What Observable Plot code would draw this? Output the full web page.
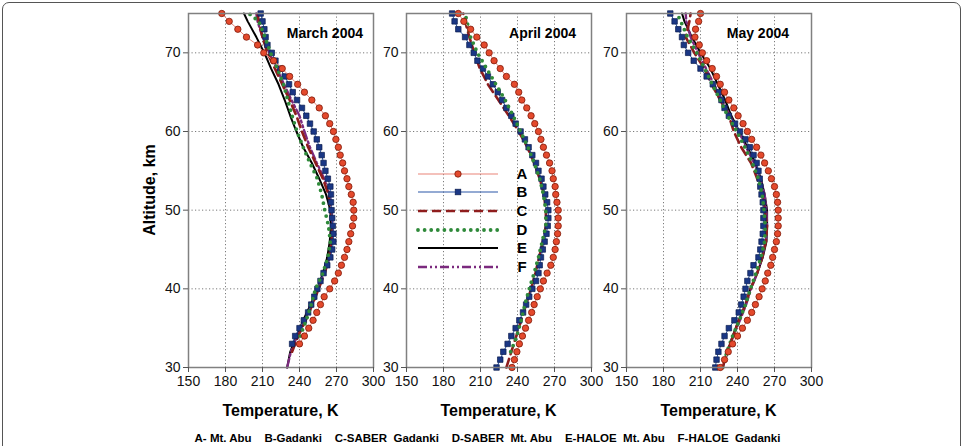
<!DOCTYPE html>
<html><head><meta charset="utf-8">
<script src="https://cdn.jsdelivr.net/npm/d3@7"></script>
<script src="https://cdn.jsdelivr.net/npm/@observablehq/plot@0.6"></script>
<style>
body{margin:0;background:#fff;font-family:'Liberation Sans',Arial,sans-serif;}
#fig{position:relative;width:965px;height:446px;overflow:hidden;background:#fff;}
.lbl{position:absolute;font-weight:bold;color:#000;white-space:pre;line-height:1;}
</style></head><body><div id="fig"></div>
<script>
// ---------- data ----------
const months = ["March 2004", "April 2004", "May 2004"];
const xTicks = [150, 180, 210, 240, 270, 300];
const yTicks = [30, 40, 50, 60, 70];
const legendCodes = ["A", "B", "C", "D", "E", "F"];
const xTitle = "Temperature, K";
const yTitle = "Altitude, km";
const captionText = "A- Mt. Abu    B-Gadanki    C-SABER  Gadanki    D-SABER  Mt. Abu    E-HALOE  Mt. Abu    F-HALOE  Gadanki";

// altitude grids (km)
const alt1 = [30,31,32,33,34,35,36,37,38,39,40,41,42,43,44,45,46,47,48,49,50,51,52,53,54,55,56,57,58,59,60,61,62,63,64,65,66,67,68,69,70,71,72,73,74,75];
const alt2 = [30,32,34,36,38,40,42,44,46,48,50,52,54,56,58,60,62,64,66,68,70,72,74,75];

// March 2004 (K)
const marA = [null,null,null,240,244,247.5,251,254,257,260,264.5,268.5,271.5,274,276.5,278.5,280,281.5,283,284,284,283.5,282,280,278.5,276.5,275,273,271.5,269.5,267.5,264.5,261,256,250,244,238.5,232,226,219,211,206,197,190,183,177];
const marB = [null,null,null,234,236.5,240,243.5,247,249.5,252,254.5,257,259.5,262.5,265,266.5,267.5,267.5,267,266.5,266,265.5,265.5,265,263,261,259.5,258,256,254,251.5,248.5,245.5,242,238,234.5,231.5,228,224.5,220.5,217.5,214,212.5,211.5,210,208.5];
const marC = [null,234,239,245,250.5,255.5,260.5,264,266,266.5,265.5,263.5,259,253,247,242,237.5,232,226,220,214,210,207,206];
const marD = [null,null,240.5,245.5,249.5,253,259,263,265,263.5,260.5,258,254.5,248.5,243,238,234,230.5,227,222,216.5,212,207,199];
const marE = [230,232.5,237.5,243,249,254.5,259,262.5,264.5,265.5,265,261.5,256,250,243,237.5,232.5,228,223,217,211.5,205,198,195];
const marF = [230,233,238,244,250,255,260,264.5,266.5,267,266,264.5,260,254,248.5,244,240,233.5,227.5,221.5,215.5,210,206,205];

// April 2004 (K)
const aprA = [235.5,237.5,239.5,241.5,244,246.5,249,251.5,253.5,256,258.5,261,264,267,269,270.5,271.5,272.5,273,273,273,272,271,270.5,269,268,266,263.5,261,259,257,254,251,247.5,243.5,241,237.5,231,226,221,217,213,207,202,196.5,192];
const aprB = [223,226,228.5,232,235,238.5,241.5,244.5,247,249.5,252,255,257,258,259,260.5,262,263.5,264.5,265,265,264,262.5,261,259.5,257,255,252,249,246,242.5,238.5,235,231,227.5,224,220,216,212,207.5,204.5,201,197.5,192,189,187];
const aprC = [231,235,239,243,247,251,254.5,257.5,260.5,263,263,261.5,258,253.5,248,241,233,224.5,216,209.5,205,201,197.5,196];
const aprD = [null,234.5,239.5,243,246,249.5,253.5,257,260,263,263,261,258,253.5,248.5,242.5,236.5,230,222.5,215,207.5,202,199,197.5];

// May 2004 (K)
const mayA = [226,229.5,232.5,236,240,244,248,251.5,254.5,257.5,260,262.5,264.5,267,268.5,270,271.5,272.5,273,273,273,272.5,271.5,270,267.5,265,262,259,255.5,251.5,248,244.5,240.5,237,233,229.5,226,223,219.5,215,211.5,209,205.5,206,208.5,210];
const mayB = [222,223,224.5,227,229.5,233,237.5,241,243,245,246.5,248,250.5,253,257,258.5,259.5,260.5,261,261,261,260.5,259.5,258.5,258,257,255.5,253,250,246.5,242,238,233,229.5,227,225,220,215,210,204.5,200,196.5,195,192,189,185.5];
const mayC = [228,231.5,236.5,241,246.5,250.5,256,260,263,264,262,260,256,251,243,237,233,226,219,213,205,198,201,202];
const mayD = [228,231.5,236,241.5,246.5,250.5,255,259,262,262.5,261.5,260,257,252,246,239.5,232,226,219.5,213.5,207,199.5,194,191];
const mayE = [227.5,232,236,241,246.5,250.5,256,260.5,263.5,264,264,262,259,254.5,248,241.5,235,230,224,218,210,203,197,195];
const mayF = [228,232,236.5,242,247,251,256,260,263,264,263.5,262,258.5,253.5,247,241,234,227.5,221,214.5,208,202,198.5,198];

// ---------- styles ----------
const st = {
  A: {line: "#e98478", fill: "#e4492c", stroke: "#7e1b0a"},
  B: {line: "#2b57a8", fill: "#1a3785", stroke: "#0b1c4e"},
  C: {stroke: "#8f1d1d", width: 2.6, dash: "9,5"},
  D: {stroke: "#2f8a3a", width: 3.8, dash: "0,6.6"},
  E: {stroke: "#000000", width: 2},
  F: {stroke: "#7b2a7e", width: 2.4, dash: "9,3,2,3,2,3"}
};

function rows(alts, temps) {
  if (!temps) return null;
  return alts.map((a, i) => ({alt: a, T: temps[i]})).filter(d => d.T != null);
}

const panelData = [
  {A: marA, B: marB, C: marC, D: marD, E: marE, F: marF},
  {A: aprA, B: aprB, C: aprC, D: aprD, E: null, F: null},
  {A: mayA, B: mayB, C: mayC, D: mayD, E: mayE, F: mayF}
];

const fig = document.getElementById("fig");
const plotLefts = [188, 406, 626];
const plotW = 185, mL = 40, mR = 20, mT = 13, mB = 30, H = 397;

// outer rounded border
const border = document.createElement("div");
border.style.cssText = "position:absolute;left:2px;top:2px;width:959px;height:480px;border:1px solid #555;border-radius:7px;box-sizing:border-box;";
fig.appendChild(border);

panelData.forEach((p, k) => {
  const A = rows(alt1, p.A), B = rows(alt1, p.B);
  const C = rows(alt2, p.C), D = rows(alt2, p.D), E = rows(alt2, p.E), F = rows(alt2, p.F);
  const marks = [
    Plot.gridX(xTicks.slice(1, -1), {stroke: "#7a7a7a", strokeOpacity: 1, strokeWidth: 1, strokeDasharray: "1.2,2.3"}),
    Plot.gridY(yTicks.slice(1), {stroke: "#7a7a7a", strokeOpacity: 1, strokeWidth: 1, strokeDasharray: "1.2,2.3"}),
    E && Plot.line(E, {x: "T", y: "alt", stroke: st.E.stroke, strokeWidth: st.E.width}),
    F && Plot.line(F, {x: "T", y: "alt", stroke: st.F.stroke, strokeWidth: st.F.width, strokeDasharray: st.F.dash}),
    C && Plot.line(C, {x: "T", y: "alt", stroke: st.C.stroke, strokeWidth: st.C.width, strokeDasharray: st.C.dash}),
    Plot.line(B, {x: "T", y: "alt", stroke: st.B.line, strokeWidth: 1}),
    Plot.dot(B, {x: "T", y: "alt", symbol: "square", r: 3.1, fill: st.B.fill, stroke: st.B.stroke, strokeWidth: 0.7}),
    D && Plot.line(D, {x: "T", y: "alt", stroke: st.D.stroke, strokeWidth: st.D.width, strokeDasharray: st.D.dash, strokeLinecap: "round"}),
    Plot.line(A, {x: "T", y: "alt", stroke: st.A.line, strokeWidth: 1}),
    Plot.dot(A, {x: "T", y: "alt", r: 3.2, fill: st.A.fill, stroke: st.A.stroke, strokeWidth: 0.8}),
    Plot.frame({stroke: "#808080", strokeWidth: 1.5}),
    Plot.axisX(xTicks, {tickSize: 5, tickPadding: 4, label: null, stroke: "#555"}),
    Plot.axisY(yTicks, {tickSize: 5, tickPadding: 3, label: null, stroke: "#555"})
  ].filter(Boolean);
  const svg = Plot.plot({
    width: mL + plotW + mR,
    height: H,
    marginLeft: mL, marginRight: mR, marginTop: mT, marginBottom: mB,
    x: {domain: [150, 300]},
    y: {domain: [30, 75]},
    style: {background: "transparent", fontFamily: "'Liberation Sans', Arial, sans-serif", fontSize: "14px", color: "#111", overflow: "visible"},
    marks
  });
  svg.style.position = "absolute";
  svg.style.left = (plotLefts[k] - mL) + "px";
  svg.style.top = "0px";
  fig.appendChild(svg);

  // panel title
  const t = document.createElement("div");
  t.className = "lbl";
  t.textContent = months[k];
  t.style.fontSize = "14px";
  t.style.top = "26px";
  t.style.left = plotLefts[k] + "px";
  t.style.width = plotW + "px";
  t.style.textAlign = "right";
  t.style.paddingRight = ([10, 15, 22][k]) + "px";
  t.style.boxSizing = "border-box";
  fig.appendChild(t);

  // x title
  const xt = document.createElement("div");
  xt.className = "lbl";
  xt.textContent = xTitle;
  xt.style.fontSize = "16px";
  xt.style.top = "403px";
  xt.style.left = (plotLefts[k] - 30) + "px";
  xt.style.width = (plotW + 60) + "px";
  xt.style.textAlign = "center";
  fig.appendChild(xt);
});

// y title
const yt = document.createElement("div");
yt.className = "lbl";
yt.textContent = yTitle;
yt.style.fontSize = "16px";
yt.style.left = "150px";
yt.style.top = "190px";
yt.style.transform = "translate(-50%,-50%) rotate(-90deg)";
fig.appendChild(yt);

// caption at the bottom edge
const cap = document.createElement("div");
cap.className = "lbl";
cap.textContent = captionText;
cap.style.fontSize = "11.5px";
cap.style.top = "433px";
cap.style.left = "0px";
cap.style.width = "975px";
cap.style.textAlign = "center";
fig.appendChild(cap);

// legend inside April panel
const leg = d3.select(fig).append("svg")
  .attr("width", 130).attr("height", 120)
  .style("position", "absolute").style("left", "410px").style("top", "160px").style("overflow", "visible");
const legY = [14, 32, 51, 70, 88, 107];
legendCodes.forEach((c, i) => {
  const y = legY[i];
  const g = leg.append("g");
  if (c === "A" || c === "B") {
    g.append("line").attr("x1", 8).attr("x2", 88).attr("y1", y).attr("y2", y).attr("stroke", st[c].line).attr("stroke-width", 1.2);
    if (c === "A") g.append("circle").attr("cx", 48).attr("cy", y).attr("r", 3.2).attr("fill", st.A.fill).attr("stroke", st.A.stroke).attr("stroke-width", 0.8);
    else g.append("rect").attr("x", 45.2).attr("y", y - 2.8).attr("width", 5.6).attr("height", 5.6).attr("fill", st.B.fill).attr("stroke", st.B.stroke).attr("stroke-width", 0.7);
  } else {
    const s = st[c];
    const ln = g.append("line").attr("x1", 8).attr("x2", 88).attr("y1", y).attr("y2", y).attr("stroke", s.stroke).attr("stroke-width", s.width);
    if (s.dash) ln.attr("stroke-dasharray", s.dash);
    if (c === "D") ln.attr("stroke-linecap", "round");
  }
  g.append("text").attr("x", 112).attr("y", y).attr("dy", "0.36em").attr("text-anchor", "middle")
    .attr("font-family", "'Liberation Sans', Arial, sans-serif").attr("font-weight", "bold").attr("font-size", 15).text(c);
});
</script></body></html>
